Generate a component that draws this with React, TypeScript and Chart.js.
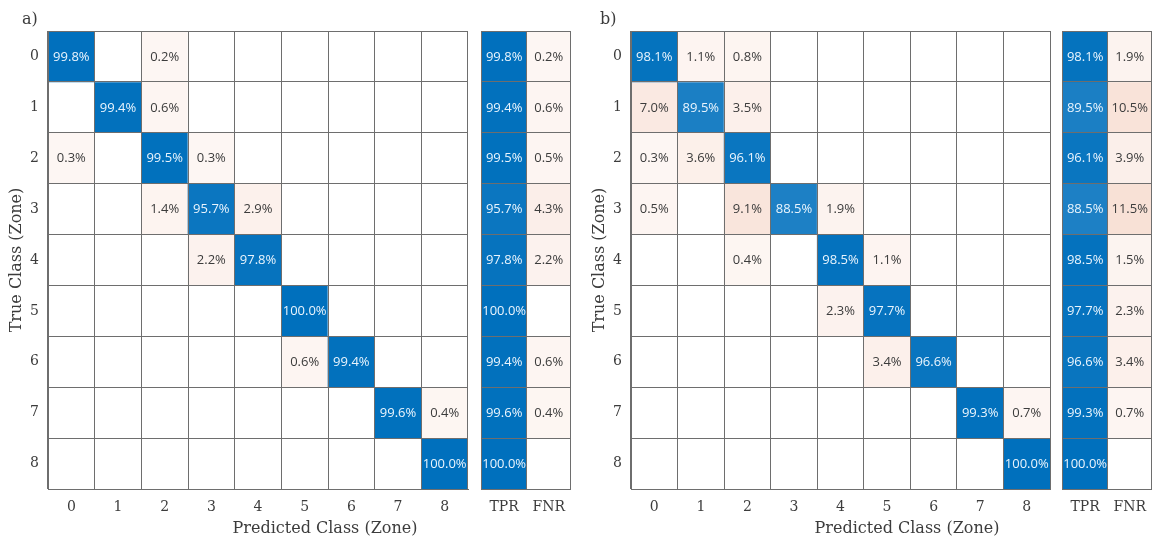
import React, { useEffect, useRef } from "react";
import { Chart, registerables } from "chart.js";

Chart.register(...registerables);

// Class labels for both axes
const ZONES = ["0", "1", "2", "3", "4", "5", "6", "7", "8"];
const RATE_LABELS = ["TPR", "FNR"];

// a) row-normalised confusion matrix (rows: true class, cols: predicted class), %
const MATRIX_A: number[][] = [
  [99.8, 0, 0.2, 0, 0, 0, 0, 0, 0],
  [0, 99.4, 0.6, 0, 0, 0, 0, 0, 0],
  [0.3, 0, 99.5, 0.3, 0, 0, 0, 0, 0],
  [0, 0, 1.4, 95.7, 2.9, 0, 0, 0, 0],
  [0, 0, 0, 2.2, 97.8, 0, 0, 0, 0],
  [0, 0, 0, 0, 0, 100.0, 0, 0, 0],
  [0, 0, 0, 0, 0, 0.6, 99.4, 0, 0],
  [0, 0, 0, 0, 0, 0, 0, 99.6, 0.4],
  [0, 0, 0, 0, 0, 0, 0, 0, 100.0],
];
const TPR_A = [99.8, 99.4, 99.5, 95.7, 97.8, 100.0, 99.4, 99.6, 100.0];
const FNR_A = [0.2, 0.6, 0.5, 4.3, 2.2, 0, 0.6, 0.4, 0];

// b) row-normalised confusion matrix, %
const MATRIX_B: number[][] = [
  [98.1, 1.1, 0.8, 0, 0, 0, 0, 0, 0],
  [7.0, 89.5, 3.5, 0, 0, 0, 0, 0, 0],
  [0.3, 3.6, 96.1, 0, 0, 0, 0, 0, 0],
  [0.5, 0, 9.1, 88.5, 1.9, 0, 0, 0, 0],
  [0, 0, 0.4, 0, 98.5, 1.1, 0, 0, 0],
  [0, 0, 0, 0, 2.3, 97.7, 0, 0, 0],
  [0, 0, 0, 0, 0, 3.4, 96.6, 0, 0],
  [0, 0, 0, 0, 0, 0, 0, 99.3, 0.7],
  [0, 0, 0, 0, 0, 0, 0, 0, 100.0],
];
const TPR_B = [98.1, 89.5, 96.1, 88.5, 98.5, 97.7, 96.6, 99.3, 100.0];
const FNR_B = [1.9, 10.5, 3.9, 11.5, 1.5, 2.3, 3.4, 0.7, 0];

const GRID = "#6e6e6e";
const TEXT = "#3c3c3c";
const SERIF = '"DejaVu Serif", "Liberation Serif", serif';
const CELL_FONT = '13px "Open Sans", "Noto Sans", sans-serif';
const BLUE = [0, 112, 189];
const ORANGE = [217, 83, 25];

const mix = (c: number[], t: number) =>
  `rgb(${c.map((v) => Math.round(255 + (v - 255) * t)).join(",")})`;

function cellColor(v: number, good: boolean): string {
  if (!v) return "#ffffff";
  return good ? mix(BLUE, v / 100) : mix(ORANGE, 0.05 + 0.011 * v);
}

const fmt = (v: number) => `${v.toFixed(1)}%`;

type Grid = number[][];
type GoodFn = (r: number, c: number) => boolean;

// writes the percentage into the middle of each coloured cell
function cellTextPlugin(values: Grid, good: GoodFn) {
  return {
    id: "cellText",
    afterDraw(chart: any) {
      const ctx = chart.ctx as CanvasRenderingContext2D;
      ctx.save();
      ctx.font = CELL_FONT;
      ctx.textAlign = "center";
      ctx.textBaseline = "middle";
      values.forEach((row, r) => {
        const meta = chart.getDatasetMeta(r);
        row.forEach((v, c) => {
          if (!v) return;
          const el = meta.data[c] as any;
          ctx.fillStyle = good(r, c) ? "#e9f4fd" : TEXT;
          ctx.fillText(fmt(v), el.x, (el.y + el.base) / 2 + 0.5);
        });
      });
      ctx.restore();
    },
  };
}

function buildConfig(
  xLabels: string[],
  values: Grid,
  good: GoodFn,
  showY: boolean
): any {
  const datasets = values.map((row, r) => ({
    label: `row ${r}`,
    data: row.map((_, c) => ({ x: xLabels[c], y: [r - 0.5, r + 0.5] })),
    backgroundColor: row.map((v, c) => cellColor(v, good(r, c))),
    borderWidth: 0,
    grouped: false,
    barPercentage: 1,
    categoryPercentage: 1,
  }));
  const rowTicks: number[] = [];
  for (let i = -0.5; i <= ZONES.length - 0.5; i += 0.5) rowTicks.push(i);
  return {
    type: "bar",
    data: { labels: xLabels, datasets },
    options: {
      animation: false,
      responsive: false,
      maintainAspectRatio: false,
      events: [],
      layout: { padding: { top: 31, right: 2, left: 0, bottom: 0 } },
      plugins: { legend: { display: false }, tooltip: { enabled: false } },
      scales: {
        x: {
          type: "category",
          offset: true,
          grid: { offset: true, color: GRID, drawTicks: false, z: 1 },
          border: { display: true, color: GRID, z: 1 },
          ticks: {
            color: TEXT,
            font: { family: SERIF, size: 14 },
            padding: 10,
            maxRotation: 0,
            autoSkip: false,
          },
          afterFit: (s: any) => {
            s.height = 49;
          },
        },
        y: {
          type: "linear",
          reverse: true,
          min: -0.5,
          max: ZONES.length - 0.5,
          afterBuildTicks: (s: any) => {
            s.ticks = rowTicks.map((value) => ({ value }));
          },
          grid: {
            color: (ctx: any) =>
              ctx.tick && Number.isInteger(ctx.tick.value) ? "rgba(0,0,0,0)" : GRID,
            drawTicks: false,
            z: 1,
          },
          border: { display: true, color: GRID, z: 1 },
          ticks: {
            display: showY,
            autoSkip: false,
            color: TEXT,
            font: { family: SERIF, size: 14 },
            padding: 9,
            callback: (v: number) => (Number.isInteger(v) ? ZONES[v] : ""),
          },
          title: {
            display: showY,
            text: "True Class (Zone)",
            color: TEXT,
            font: { family: SERIF, size: 16 },
            padding: { top: 7, bottom: 0 },
          },
          afterFit: (s: any) => {
            s.width = showY ? 48 : 0;
          },
        },
      },
    },
    plugins: [cellTextPlugin(values, good)],
  };
}

function CellChart(props: {
  left: number;
  width: number;
  xLabels: string[];
  values: Grid;
  good: GoodFn;
  showY: boolean;
}) {
  const ref = useRef<HTMLCanvasElement>(null);
  useEffect(() => {
    if (!ref.current) return;
    const chart = new Chart(
      ref.current,
      buildConfig(props.xLabels, props.values, props.good, props.showY)
    );
    return () => chart.destroy();
  }, []);
  return (
    <canvas
      ref={ref}
      width={props.width}
      height={538}
      style={{ position: "absolute", left: props.left, top: 0, width: props.width, height: 538 }}
    />
  );
}

const diag: GoodFn = (r, c) => r === c;
const firstCol: GoodFn = (_r, c) => c === 0;
const ratesA: Grid = TPR_A.map((t, i) => [t, FNR_A[i]]);
const ratesB: Grid = TPR_B.map((t, i) => [t, FNR_B[i]]);

const labelStyle: React.CSSProperties = {
  position: "absolute",
  fontFamily: SERIF,
  fontSize: 16,
  color: TEXT,
  lineHeight: "20px",
  whiteSpace: "nowrap",
};

export default function App() {
  return (
    <div
      style={{
        position: "fixed",
        left: 0,
        top: 0,
        width: 1152,
        height: 538,
        overflow: "hidden",
        background: "#ffffff",
      }}
    >
      <CellChart left={0} width={470} xLabels={ZONES} values={MATRIX_A} good={diag} showY />
      <CellChart left={480} width={95} xLabels={RATE_LABELS} values={ratesA} good={firstCol} showY={false} />
      <CellChart left={583} width={469} xLabels={ZONES} values={MATRIX_B} good={diag} showY />
      <CellChart left={1061} width={95} xLabels={RATE_LABELS} values={ratesB} good={firstCol} showY={false} />

      <div style={{ ...labelStyle, left: 22, top: 9 }}>a)</div>
      <div style={{ ...labelStyle, left: 600, top: 9 }}>b)</div>
      <div style={{ ...labelStyle, left: 225, top: 518, width: 200, textAlign: "center" }}>
        Predicted Class (Zone)
      </div>
      <div style={{ ...labelStyle, left: 807, top: 518, width: 200, textAlign: "center" }}>
        Predicted Class (Zone)
      </div>
    </div>
  );
}
